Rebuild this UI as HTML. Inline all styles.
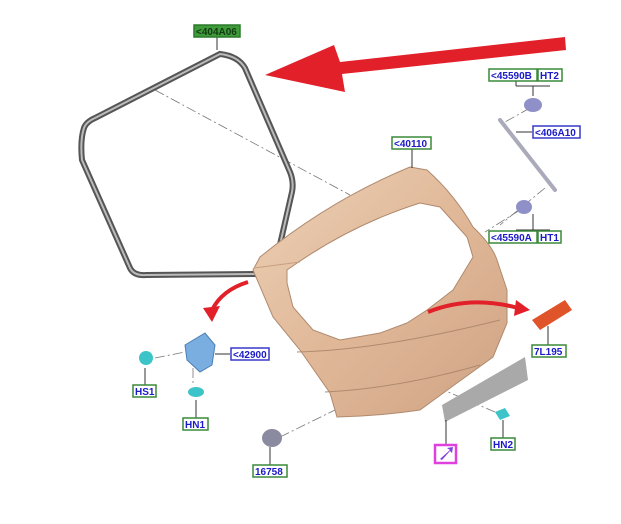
<!DOCTYPE html>
<html><head><meta charset="utf-8"><style>
body{margin:0;background:#fff;width:621px;height:524px;overflow:hidden}
svg{display:block}
text{font-family:"Liberation Sans",sans-serif;font-weight:bold;font-size:10px}
</style></head><body>
<svg width="621" height="524" viewBox="0 0 621 524">
<defs>
<linearGradient id="tg" x1="0" y1="0" x2="1" y2="1">
<stop offset="0" stop-color="#ecd0b6"/><stop offset="0.5" stop-color="#e0b898"/><stop offset="1" stop-color="#cfa384"/>
</linearGradient>
</defs>
<g stroke="#777" stroke-width="0.8" stroke-dasharray="10,3,2,3" fill="none">
<line x1="155" y1="90" x2="350" y2="195"/>
<line x1="520" y1="210" x2="485" y2="232"/>
<line x1="545" y1="188" x2="500" y2="225"/>
<line x1="530" y1="108" x2="505" y2="122"/>
<line x1="155" y1="358" x2="185" y2="352"/>
<line x1="193" y1="368" x2="193" y2="385"/>
<line x1="280" y1="437" x2="335" y2="410"/>
<line x1="420" y1="380" x2="495" y2="412"/>
</g>
<path d="M84,128 Q80,140 82,160 L130,268 Q134,276 146,275 L262,274 Q272,273 276,262 L292,192 Q294,182 290,172 L245,68 Q238,56 220,54 L95,118 Q86,122 84,128 Z" fill="none" stroke="#555" stroke-width="6"/>
<path d="M84,128 Q80,140 82,160 L130,268 Q134,276 146,275 L262,274 Q272,273 276,262 L292,192 Q294,182 290,172 L245,68 Q238,56 220,54 L95,118 Q86,122 84,128 Z" fill="none" stroke="#bbb" stroke-width="2"/>
<!-- tailgate -->
<path d="M260,257 Q330,200 410,167 L427,170 Q455,195 473,227 Q492,245 497,260 L507,290 L507,323 L493,357 L457,383 L420,410 Q380,416 337,417 L330,393 L300,350 L273,317 L253,270 Z" fill="url(#tg)" stroke="#b08a6e" stroke-width="1"/>
<path d="M287,270 Q350,225 420,203 L440,207 L467,237 L473,257 L453,290 L427,310 L407,323 L380,333 L340,340 L313,330 L293,307 L287,283 Z" fill="#fff" stroke="#b08a6e" stroke-width="1"/>
<path d="M297,352 Q380,350 500,320" fill="none" stroke="#b08a6e"/>
<path d="M325,392 Q400,388 480,365" fill="none" stroke="#b08a6e"/>
<path d="M254,268 L300,262" fill="none" stroke="#c9a080"/>
<path d="M565,37 L340,62 L334,45 L265,75 L345,92 L342,74 L566,50 Z" fill="#e2202a"/>
<path d="M248,282 Q222,290 212,310" fill="none" stroke="#e2202a" stroke-width="4"/>
<path d="M203,308 L212,322 L220,306 Z" fill="#e2202a"/>
<path d="M428,312 Q470,295 518,308" fill="none" stroke="#e2202a" stroke-width="4"/>
<path d="M516,300 L530,310 L514,316 Z" fill="#e2202a"/>
<line x1="500" y1="120" x2="555" y2="190" stroke="#aab" stroke-width="4" stroke-linecap="round"/>
<ellipse cx="533" cy="105" rx="9" ry="7" fill="#8f90c8"/>
<ellipse cx="524" cy="207" rx="8" ry="7" fill="#8f90c8"/>
<path d="M185,345 L205,333 L215,345 L212,365 L200,372 L187,360 Z" fill="#7aaee0" stroke="#4a7fb5"/>
<circle cx="146" cy="358" r="7" fill="#3cc4c8"/>
<ellipse cx="196" cy="392" rx="8" ry="5" fill="#3cc4c8"/>
<ellipse cx="272" cy="438" rx="10" ry="9" fill="#8a8aa0"/>
<path d="M495,412 L505,408 L510,416 L500,420 Z" fill="#3cc4c8"/>
<path d="M532,320 L565,300 L572,310 L540,330 Z" fill="#e0542a"/>
<path d="M442,405 L525,357 L528,380 L445,422 Z" fill="#a9a9a9"/>
<g stroke="#333" stroke-width="1">
<line x1="217" y1="37" x2="217" y2="50"/>
<line x1="412" y1="148" x2="412" y2="168"/>
<line x1="516" y1="80" x2="516" y2="86"/><line x1="516" y1="86" x2="550" y2="86"/><line x1="533" y1="86" x2="533" y2="96"/>
<line x1="516" y1="132" x2="532" y2="132"/>
<line x1="516" y1="230" x2="550" y2="230"/><line x1="533" y1="230" x2="533" y2="214"/>
<line x1="215" y1="354" x2="230" y2="354"/>
<line x1="145" y1="368" x2="145" y2="385"/>
<line x1="196" y1="400" x2="196" y2="418"/>
<line x1="270" y1="447" x2="270" y2="465"/>
<line x1="548" y1="326" x2="548" y2="345"/>
<line x1="503" y1="420" x2="503" y2="438"/>
<line x1="446" y1="420" x2="446" y2="445"/>
</g>
<g stroke-width="1.5">
<rect x="194" y="25" width="46" height="12" fill="#3f9a3a" stroke="#2a7a2a"/>
<rect x="392" y="137" width="39" height="12" fill="#fff" stroke="#3a8a3a"/>
<rect x="489" y="69" width="48" height="12" fill="#fff" stroke="#3a8a3a"/>
<rect x="538" y="69" width="24" height="12" fill="#fff" stroke="#3a8a3a"/>
<rect x="533" y="126" width="47" height="12" fill="#fff" stroke="#3838c8"/>
<rect x="489" y="231" width="48" height="12" fill="#fff" stroke="#3a8a3a"/>
<rect x="538" y="231" width="23" height="12" fill="#fff" stroke="#3a8a3a"/>
<rect x="231" y="348" width="38" height="12" fill="#fff" stroke="#3838c8"/>
<rect x="133" y="385" width="23" height="12" fill="#fff" stroke="#3a8a3a"/>
<rect x="183" y="418" width="25" height="12" fill="#fff" stroke="#3a8a3a"/>
<rect x="253" y="465" width="34" height="12" fill="#fff" stroke="#3a8a3a"/>
<rect x="532" y="345" width="34" height="12" fill="#fff" stroke="#3a8a3a"/>
<rect x="491" y="438" width="24" height="12" fill="#fff" stroke="#3a8a3a"/>
<rect x="435" y="445" width="21" height="18" fill="#fff" stroke="#e040e0" stroke-width="2.5"/>
</g>
<g fill="#1a1ac8">
<text x="196" y="35" fill="#143a14">&lt;404A06</text>
<text x="394" y="147">&lt;40110</text>
<text x="491" y="79">&lt;45590B</text>
<text x="540" y="79">HT2</text>
<text x="535" y="136">&lt;406A10</text>
<text x="491" y="241">&lt;45590A</text>
<text x="540" y="241">HT1</text>
<text x="233" y="358">&lt;42900</text>
<text x="135" y="395">HS1</text>
<text x="185" y="428">HN1</text>
<text x="255" y="475">16758</text>
<text x="534" y="355">7L195</text>
<text x="493" y="448">HN2</text>
</g>
<path d="M440,459 L450,450 L447,448 L453,447 L452,453 L450,451 L442,460 Z" fill="#8040e0"/>
</svg>
</body></html>
